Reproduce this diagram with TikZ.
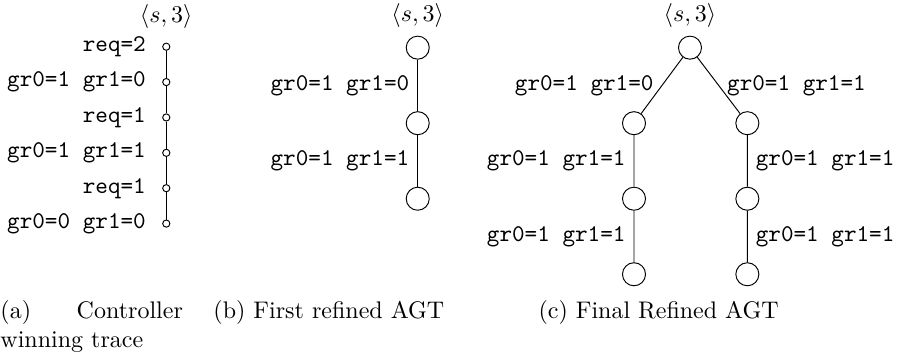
\documentclass[tikz,border=0pt]{standalone}
\usepackage{tikz}
\usetikzlibrary{calc}

\begin{document}
\begin{tikzpicture}
[scale=1,tick/.style={draw,circle,inner sep=0pt,minimum size=3pt},
state/.style={draw,circle,inner sep=0pt,minimum size=9.6pt},
lbl/.style={font=\ttfamily},
captext/.style={inner sep=0pt,anchor=base west},]

%Page size
\useasboundingbox (0,0) rectangle (13.194,-5.243);

%Controller winning trace
\node (a1) at (2.435,-0.684)[tick,label={[label distance=2.5pt]above:{$\langle s,3\rangle$}},label={[lbl,label distance=3.3pt]left:req=2}] {};
\node (a2) at (2.435,-1.202)[tick,label={[lbl,label distance=3.3pt]left:gr0=1 gr1=0}] {};
\node (a3) at (2.435,-1.720)[tick,label={[lbl,label distance=3.3pt]left:req=1}] {};
\node (a4) at (2.435,-2.238)[tick,label={[lbl,label distance=3.3pt]left:gr0=1 gr1=1}] {};
\node (a5) at (2.435,-2.756)[tick,label={[lbl,label distance=3.3pt]left:req=1}] {};
\node (a6) at (2.435,-3.274)[tick,label={[lbl,label distance=3.3pt]left:gr0=0 gr1=0}] {};

\draw (a1) -- (a2) -- (a3) -- (a4) -- (a5) -- (a6);

%First refined AGT
\node (b1) at (6.117,-0.698)[state,label={above:{$\langle s,3\rangle$}}] {};
\node (b2) at (6.117,-1.804)[state] {};
\node (b3) at (6.117,-2.910)[state] {};

\draw (b1) -- node[lbl,left] {gr0=1 gr1=0} (b2) -- node[lbl,left] {gr0=1 gr1=1} (b3);

%Final refined AGT
\node (c0) at (10.104,-0.698)[state,label={above:{$\langle s,3\rangle$}}] {};
\node (c1) at (9.284,-1.804)[state] {};
\node (c2) at (9.284,-2.910)[state] {};
\node (c3) at (9.284,-4.016)[state] {};
\node (c4) at (10.944,-1.804)[state] {};
\node (c5) at (10.944,-2.910)[state] {};
\node (c6) at (10.944,-4.016)[state] {};

%Left branch
\draw (c0) -- node[lbl,left] {gr0=1 gr1=0} (c1) -- node[lbl,left] {gr0=1 gr1=1} (c2) -- node[lbl,left] {gr0=1 gr1=1} (c3);
%Right branch
\draw (c0) -- node[lbl,right] {gr0=1 gr1=1} (c4) -- node[lbl,right] {gr0=1 gr1=1} (c5) -- node[lbl,right] {gr0=1 gr1=1} (c6);

%Captions
\node (capa) at (0,-4.671)[captext,text width=76pt,align=justify] {(a) Controller winning trace};
\node (capb) at (3.119,-4.671)[captext] {(b) First refined AGT};
\node (capc) at (7.879,-4.671)[captext] {(c) Final Refined AGT};

\end{tikzpicture}
\end{document}
